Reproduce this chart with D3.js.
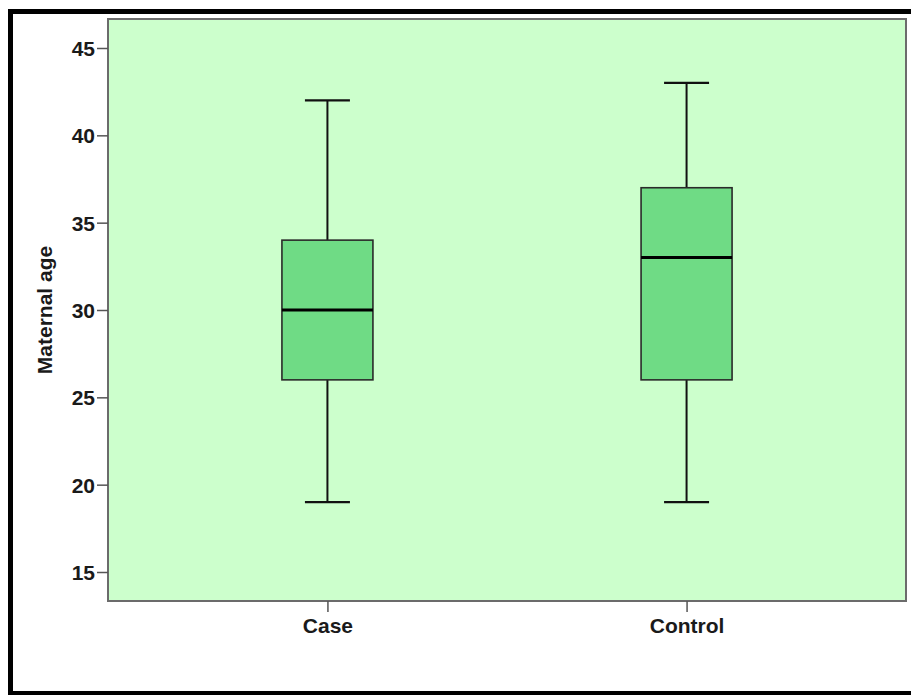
<!DOCTYPE html>
<html>
<head>
<meta charset="utf-8">
<script src="https://cdn.jsdelivr.net/npm/d3@7"></script>
<style>
  html, body { margin: 0; padding: 0; background: #fff; }
  svg { display: block; }
  text { font-family: "Liberation Sans", Arial, sans-serif; font-weight: bold; fill: #1a1a1a; }
</style>
</head>
<body>
<svg id="chart" width="911" height="695"></svg>
<script>
// Groups and five-number summaries of maternal age
const groups = ["Case", "Control"];
const whiskerLow = [19, 19];
const quartile1 = [26, 26];
const medians = [30, 33];
const quartile3 = [34, 37];
const whiskerHigh = [42, 43];
const yTicks = [15, 20, 25, 30, 35, 40, 45];
const yTitle = "Maternal age";

const svg = d3.select("#chart");
const W = 911, H = 695;
const plot = { left: 108, top: 19, right: 906, bottom: 601 };

// Outer frame
const frame = svg.append("g");
frame.append("rect").attr("x", 8).attr("y", 9).attr("width", W).attr("height", 5).attr("fill", "#000");
frame.append("rect").attr("x", 8).attr("y", 9).attr("width", 5).attr("height", H).attr("fill", "#000");
frame.append("rect").attr("x", 8).attr("y", 691).attr("width", W).attr("height", 4).attr("fill", "#000");

const y = d3.scaleLinear().domain([13.34, 46.66]).range([plot.bottom, plot.top]);
const x = d3.scalePoint().domain(groups).range([plot.left, plot.right]).padding(0.611);

// Plot background
svg.append("rect")
  .attr("x", plot.left).attr("y", plot.top)
  .attr("width", plot.right - plot.left).attr("height", plot.bottom - plot.top)
  .attr("fill", "#ccffcc");

const boxW = 91, capW = 45;
const data = groups.map((g, i) => ({
  g, lo: whiskerLow[i], q1: quartile1[i], med: medians[i], q3: quartile3[i], hi: whiskerHigh[i]
}));

const boxes = svg.append("g").selectAll("g").data(data).join("g");

// Whiskers
boxes.append("line")
  .attr("x1", d => x(d.g)).attr("x2", d => x(d.g))
  .attr("y1", d => y(d.hi)).attr("y2", d => y(d.q3))
  .attr("stroke", "#111").attr("stroke-width", 2);
boxes.append("line")
  .attr("x1", d => x(d.g)).attr("x2", d => x(d.g))
  .attr("y1", d => y(d.q1)).attr("y2", d => y(d.lo))
  .attr("stroke", "#111").attr("stroke-width", 2);
boxes.append("line")
  .attr("x1", d => x(d.g) - capW / 2).attr("x2", d => x(d.g) + capW / 2)
  .attr("y1", d => y(d.hi)).attr("y2", d => y(d.hi))
  .attr("stroke", "#111").attr("stroke-width", 2.2);
boxes.append("line")
  .attr("x1", d => x(d.g) - capW / 2).attr("x2", d => x(d.g) + capW / 2)
  .attr("y1", d => y(d.lo)).attr("y2", d => y(d.lo))
  .attr("stroke", "#111").attr("stroke-width", 2.2);

// Interquartile boxes
boxes.append("rect")
  .attr("x", d => x(d.g) - boxW / 2).attr("width", boxW)
  .attr("y", d => y(d.q3)).attr("height", d => y(d.q1) - y(d.q3))
  .attr("fill", "#6fdb85").attr("stroke", "#2a2a2a").attr("stroke-width", 1.6);

// Medians
boxes.append("line")
  .attr("x1", d => x(d.g) - boxW / 2).attr("x2", d => x(d.g) + boxW / 2)
  .attr("y1", d => y(d.med)).attr("y2", d => y(d.med))
  .attr("stroke", "#000").attr("stroke-width", 3);

// Plot border
svg.append("rect")
  .attr("x", plot.left).attr("y", plot.top)
  .attr("width", plot.right - plot.left).attr("height", plot.bottom - plot.top)
  .attr("fill", "none").attr("stroke", "#6b6b6b").attr("stroke-width", 2);

// Y axis
const yAxis = svg.append("g")
  .attr("transform", `translate(${plot.left},0)`)
  .call(d3.axisLeft(y).tickValues(yTicks).tickSize(11).tickPadding(2));
yAxis.select(".domain").remove();
yAxis.selectAll(".tick line").attr("stroke", "#555").attr("stroke-width", 1.5);
yAxis.selectAll(".tick text")
  .attr("font-size", 21).attr("font-family", "Liberation Sans, Arial, sans-serif")
  .attr("font-weight", "bold").attr("fill", "#1a1a1a").attr("dy", "0.36em");

// X axis
const xAxis = svg.append("g")
  .attr("transform", `translate(0,${plot.bottom})`)
  .call(d3.axisBottom(x).tickSize(11).tickPadding(6));
xAxis.select(".domain").remove();
xAxis.selectAll(".tick line").attr("stroke", "#555").attr("stroke-width", 1.5);
xAxis.selectAll(".tick text")
  .attr("font-size", 21).attr("font-family", "Liberation Sans, Arial, sans-serif")
  .attr("font-weight", "bold").attr("fill", "#1a1a1a");

// Y axis title
svg.append("text")
  .attr("transform", `translate(52,${(plot.top + plot.bottom) / 2}) rotate(-90)`)
  .attr("text-anchor", "middle")
  .attr("font-size", 21)
  .text(yTitle);
</script>
</body>
</html>
